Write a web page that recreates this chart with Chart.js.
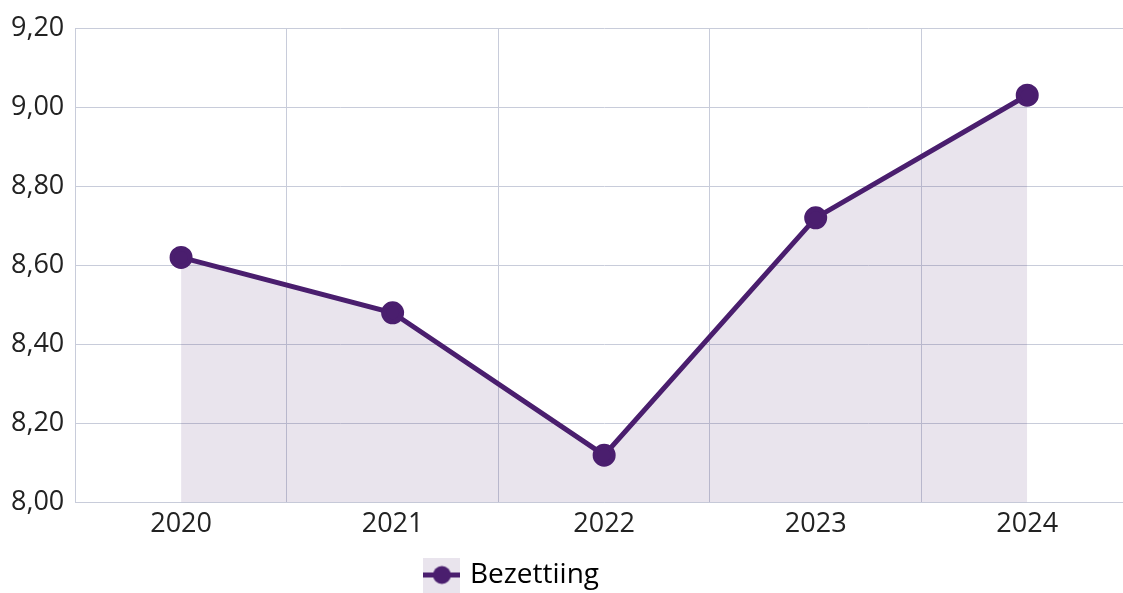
<!DOCTYPE html>
<html>
<head>
<meta charset="utf-8">
<script src="https://cdn.jsdelivr.net/npm/chart.js@4"></script>
<style>
  html, body { margin: 0; padding: 0; background: #fff; overflow: hidden; }
  #wrap { width: 1123px; height: 593px; overflow: hidden; }
</style>
</head>
<body>
<div id="wrap"><canvas id="myChart" width="1147" height="593"></canvas></div>
<script>
const years = ['2020', '2021', '2022', '2023', '2024'];
const bezetting = [8.62, 8.48, 8.12, 8.72, 9.03];
const yMin = 8.0;
const yMax = 9.2;

const purple = 'rgb(74, 30, 110)';
const lightPurple = 'rgba(74, 30, 110, 0.12)';

// legend icon: filled square with the line and dot through it
const icon = document.createElement('canvas');
icon.width = 37;
icon.height = 35;
const ic = icon.getContext('2d');
ic.fillStyle = lightPurple;
ic.fillRect(0, 0, 37, 35);
ic.strokeStyle = purple;
ic.lineWidth = 5;
ic.beginPath();
ic.moveTo(0, 17.5);
ic.lineTo(37, 17.5);
ic.stroke();
ic.fillStyle = purple;
ic.beginPath();
ic.arc(18.5, 17.5, 9, 0, Math.PI * 2);
ic.fill();

// the legend in the original sits left of centre and a bit lower
const legendShift = {
    id: 'legendShift',
    afterLayout(chart) {
        const lg = chart.legend;
        if (!lg) return;
        lg.right -= 120;
        lg.top += 6;
        lg.bottom += 6;
    }
};

const ctx = document.getElementById('myChart');

new Chart(ctx, {
    type: 'line',
    data: {
        labels: years,
        datasets: [{
            label: 'Bezettiing',
            data: bezetting,
            borderColor: purple,
            backgroundColor: lightPurple,
            pointBackgroundColor: purple,
            pointBorderColor: purple,
            borderWidth: 5,
            pointRadius: 9,
            pointStyle: 'circle',
            fill: 'origin',
            tension: 0
        }]
    },
    options: {
        responsive: false,
        maintainAspectRatio: false,
        animation: false,
        layout: { padding: { top: 28, right: 0, left: 0, bottom: 0 } },
        plugins: {
            legend: {
                position: 'bottom',
                labels: {
                    usePointStyle: true,
                    color: '#222',
                    font: { family: 'Open Sans', size: 28 },
                    padding: 8,
                    generateLabels: function (chart) {
                        return [{
                            text: 'Bezettiing',
                            pointStyle: icon,
                            fillStyle: lightPurple,
                            strokeStyle: purple,
                            lineWidth: 0,
                            datasetIndex: 0
                        }];
                    }
                }
            },
            tooltip: { enabled: false }
        },
        scales: {
            x: {
                offset: true,
                grid: { offset: true, color: 'rgb(200, 204, 218)', drawTicks: false },
                border: { color: 'rgb(200, 204, 218)' },
                ticks: {
                    color: '#222',
                    padding: 6,
                    font: { family: 'Open Sans', size: 27 }
                }
            },
            y: {
                min: yMin,
                max: yMax,
                grid: { color: 'rgb(200, 204, 218)', drawTicks: false },
                border: { color: 'rgb(200, 204, 218)' },
                ticks: {
                    stepSize: 0.2,
                    color: '#222',
                    padding: 11,
                    font: { family: 'Open Sans', size: 27 },
                    callback: function (value) {
                        return value.toFixed(2).replace('.', ',');
                    }
                }
            }
        }
    },
    plugins: [legendShift]
});
</script>
</body>
</html>
